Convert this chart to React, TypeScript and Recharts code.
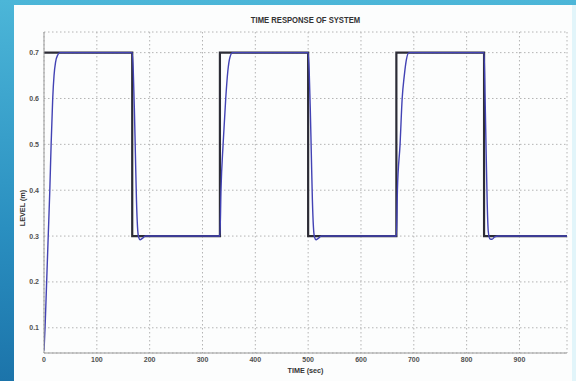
import { LineChart, Line, XAxis, YAxis, CartesianGrid } from 'recharts';

// setpoint (square wave)
const setTime = [0, 167, 167, 333, 333, 500, 500, 667, 667, 833, 833, 990];
const setLevel = [0.7, 0.7, 0.3, 0.3, 0.7, 0.7, 0.3, 0.3, 0.7, 0.7, 0.3, 0.3];

// system response, estimated points around each step
const respTime = [
  0, 2, 5, 8, 11, 13.5, 16.5, 19, 22, 26, 30,
  167, 169, 171, 173, 175, 177, 179, 182, 186, 192,
  333, 335, 339, 344, 348, 352, 357,
  500, 502, 504, 506, 508, 510, 512, 515, 519, 525,
  667, 669, 674, 678, 682, 686, 691,
  833, 835, 837, 839, 841, 844, 848, 853, 860, 990,
];
const respLevel = [
  0.05, 0.1, 0.2, 0.3, 0.4, 0.5, 0.6, 0.65, 0.68, 0.695, 0.7,
  0.7, 0.66, 0.58, 0.48, 0.38, 0.32, 0.298, 0.292, 0.295, 0.3,
  0.3, 0.4, 0.5, 0.6, 0.66, 0.69, 0.7,
  0.7, 0.66, 0.58, 0.48, 0.38, 0.32, 0.298, 0.292, 0.295, 0.3,
  0.3, 0.4, 0.5, 0.6, 0.65, 0.685, 0.7,
  0.7, 0.6, 0.48, 0.37, 0.31, 0.294, 0.293, 0.298, 0.3, 0.3,
];

const xTicks = [0, 100, 200, 300, 400, 500, 600, 700, 800, 900];
const yTicks = [0.1, 0.2, 0.3, 0.4, 0.5, 0.6, 0.7];

const setData = setTime.map((t, i) => ({ t, level: setLevel[i] }));
const respData = respTime.map((t, i) => ({ t, level: respLevel[i] }));

const FONT = '"Liberation Sans", Arial, sans-serif';
const tickStyle = { fontSize: 7, fill: '#505050', fontFamily: FONT, fontWeight: 700 };

export default function App() {
  return (
    <div style={{ position: 'absolute', left: 0, top: 0, width: 576, height: 381, background: 'linear-gradient(180deg, #4cb6d8 0%, #2a8fc0 60%, #1c74aa 100%)', overflow: 'hidden' }}>
      <div style={{ position: 'absolute', left: 14, top: 5, right: 0, bottom: 0, background: '#fcfdfd', borderRight: '4px solid #e2f5fa' }} />
      <div style={{ position: 'absolute', left: 0, top: 0 }}>
        <LineChart width={576} height={381} margin={{ top: 32, right: 9, bottom: 0, left: 0 }}>
          <CartesianGrid stroke="#b4b4b4" strokeDasharray="1.5 2.5" strokeWidth={1} />
          <XAxis dataKey="t" type="number" domain={[0, 990]} ticks={xTicks} allowDataOverflow
            height={28} tickSize={0} tickMargin={4} tick={tickStyle} stroke="#9a9a9a" />
          <XAxis xAxisId="top" orientation="top" type="number" domain={[0, 990]} height={0} tick={false} tickLine={false} stroke="#9a9a9a" />
          <YAxis dataKey="level" type="number" domain={[0.045, 0.745]} ticks={yTicks} allowDataOverflow
            width={44} tickSize={0} tickMargin={5} tick={tickStyle} stroke="#9a9a9a" />
          <YAxis yAxisId="right" orientation="right" type="number" domain={[0, 1]} width={0} tick={false} tickLine={false} stroke="#9a9a9a" />
          <Line data={setData} dataKey="level" type="linear" stroke="#2c2c36" strokeWidth={2.2} dot={false} isAnimationActive={false} />
          <Line data={respData} dataKey="level" type="monotone" stroke="#4242b4" strokeWidth={1.4} dot={false} isAnimationActive={false} />
        </LineChart>
      </div>
      <div style={{ position: 'absolute', left: 44, width: 523, top: 15, textAlign: 'center', fontFamily: FONT, fontWeight: 700, fontSize: 8.5, color: '#333', transform: 'scaleX(0.9)' }}>
        TIME RESPONSE OF SYSTEM
      </div>
      <div style={{ position: 'absolute', left: 44, width: 523, top: 366, textAlign: 'center', fontFamily: FONT, fontWeight: 700, fontSize: 8, color: '#333', transform: 'scaleX(0.9)' }}>
        TIME (sec)
      </div>
      <div style={{ position: 'absolute', left: 22, top: 208, width: 0, height: 0 }}>
        <div style={{ position: 'absolute', transform: 'translate(-50%, -50%) rotate(-90deg) scaleX(0.9)', whiteSpace: 'nowrap', fontFamily: FONT, fontWeight: 700, fontSize: 8, color: '#333' }}>
          LEVEL (m)
        </div>
      </div>
    </div>
  );
}
